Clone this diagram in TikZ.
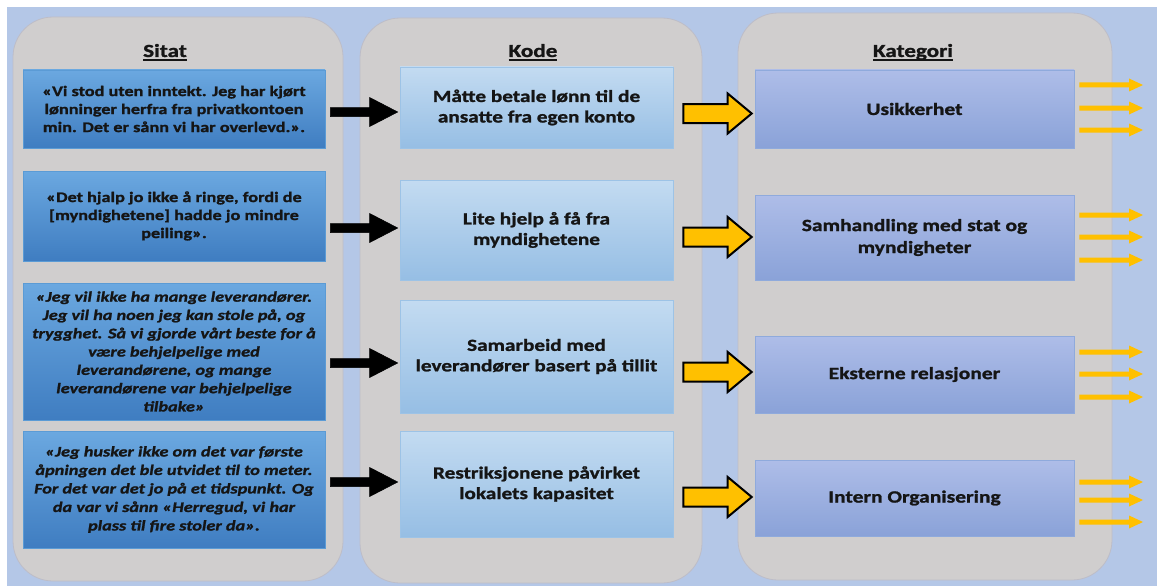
\documentclass[tikz,border=0pt]{standalone}
\usepackage{fontspec}
\setmainfont{Carlito}[FakeStretch=1.25, BoldFeatures={FakeBold=1.3}, BoldItalicFeatures={FakeBold=1.3}]
\usetikzlibrary{calc}
\definecolor{bg}{HTML}{B4C7E7}
\definecolor{panelfill}{HTML}{D0CECE}
\definecolor{panelline}{HTML}{BDBDC8}
\definecolor{stop}{HTML}{6BA8E0}
\definecolor{sbot}{HTML}{3F7DC1}
\definecolor{sline}{HTML}{5B9BD5}
\definecolor{ktop}{HTML}{C3DBF1}
\definecolor{kbot}{HTML}{96BEE4}
\definecolor{kline}{HTML}{9DC3E6}
\definecolor{ctop}{HTML}{AEBDE8}
\definecolor{cbot}{HTML}{8AA2D8}
\definecolor{cline}{HTML}{8FAADC}
\definecolor{gold}{HTML}{FFC000}
\definecolor{txt}{HTML}{151515}
\newcommand\titleul[1]{\setbox0\hbox{#1}\rlap{\rule[-3.6pt]{\wd0}{1.3pt}}\box0}
\newcommand\blockarrow[6]{%
  \draw[#1] let \p1=#2, \p2=#3 in
    (\x1,{\y1+#4}) -- ({\x2-#6},{\y1+#4}) -- ({\x2-#6},{\y1+#5}) -- (\x2,\y1)
    -- ({\x2-#6},{\y1-#5}) -- ({\x2-#6},{\y1-#4}) -- (\x1,{\y1-#4}) -- cycle;}
\begin{document}
\begin{tikzpicture}[x=1pt,y=-1pt,
  panel/.style={draw=panelline, fill=panelfill, rounded corners=40pt, line width=0.8pt, inner sep=0pt},
  title/.style={font=\fontsize{18.5}{20}\selectfont\bfseries, text=txt, anchor=base, inner sep=0pt},
  sbox/.style={draw=sline, top color=stop, bottom color=sbot, line width=0.6pt, minimum width=302pt, inner sep=0pt, align=center, text=txt, font=\fontsize{14.6}{18}\selectfont\bfseries},
  kbox/.style={draw=kline, top color=ktop, bottom color=kbot, line width=0.6pt, minimum width=273pt, inner sep=0pt, align=center, text=txt, font=\fontsize{17}{20.5}\selectfont\bfseries},
  cbox/.style={draw=cline, top color=ctop, bottom color=cbot, line width=0.6pt, minimum width=319pt, inner sep=0pt, align=center, text=txt, font=\fontsize{17.2}{22}\selectfont\bfseries},
  blackarr/.style={fill=black, draw=black, line width=0.5pt},
  goldarr/.style={fill=gold, draw=black, line width=2pt, line join=miter},
  smallarr/.style={fill=gold, draw=none}
]
% background
\fill[white] (0,0) rectangle (1157,586);
\fill[bg] (7,7) rectangle (1157,586);

% panels
\node[panel, minimum width=330pt, minimum height=564pt] (pS) at (178,299) {};
\node[panel, minimum width=342pt, minimum height=565pt] (pK) at (531,300.5) {};
\node[panel, minimum width=374pt, minimum height=567pt] (pC) at (925,296.5) {};

% titles
\node[title] (tS) at (165,57) {\titleul{Sitat}};
\node[title] (tK) at (533,57) {\titleul{Kode}};
\node[title] (tC) at (913,57) {\titleul{Kategori}};

% Sitat boxes
\node[sbox, minimum height=78pt] (s1) at (174,109) {«Vi stod uten inntekt. Jeg har kjørt\\lønninger herfra fra privatkontoen\\min. Det er sånn vi har overlevd.».};
\node[sbox, minimum height=90pt] (s2) at (174,216) {«Det hjalp jo ikke å ringe, fordi de\\{[}myndighetene{]} hadde jo mindre\\peiling».};
\node[sbox, minimum height=137pt, font=\fontsize{14.6}{18.3}\selectfont\bfseries\itshape] (s3) at (174,351.5) {«Jeg vil ikke ha mange leverandører.\\Jeg vil ha noen jeg kan stole på, og\\trygghet. Så vi gjorde vårt beste for å\\være behjelpelige med\\leverandørene, og mange\\leverandørene var behjelpelige\\tilbake»};
\node[sbox, minimum height=117pt, font=\fontsize{14.6}{18.5}\selectfont\bfseries\itshape] (s4) at (174,489.5) {«Jeg husker ikke om det var første\\åpningen det ble utvidet til to meter.\\For det var det jo på et tidspunkt. Og\\da var vi sånn «Herregud, vi har\\plass til fire stoler da».};

% Kode boxes
\node[kbox, minimum height=81pt] (k1) at (536.5,107.5) {Måtte betale lønn til de\\ansatte fra egen konto};
\node[kbox, minimum height=100pt] (k2) at (536.5,230) {Lite hjelp å få fra\\myndighetene};
\node[kbox, minimum height=113pt] (k3) at (536.5,356.5) {Samarbeid med\\leverandører basert på tillit};
\node[kbox, minimum height=106pt] (k4) at (536.5,484) {Restriksjonene påvirket\\lokalets kapasitet};

% Kategori boxes
\node[cbox, minimum height=78pt] (c1) at (914.5,109) {Usikkerhet};
\node[cbox, minimum height=85pt] (c2) at (914.5,237.5) {Samhandling med stat og\\myndigheter};
\node[cbox, minimum height=77pt] (c3) at (914.5,374.5) {Eksterne relasjoner};
\node[cbox, minimum height=76pt] (c4) at (914.5,498) {Intern Organisering};

% black arrows Sitat -> Kode
\blockarrow{blackarr}{($(s1.east |- 0,112)+(5,0)$)}{($(k1.west |- 0,112)+(-2,0)$)}{4.5pt}{14.5pt}{28pt}
\blockarrow{blackarr}{($(s2.east |- 0,228)+(5,0)$)}{($(k2.west |- 0,228)+(-2,0)$)}{4.5pt}{14.5pt}{28pt}
\blockarrow{blackarr}{($(s3.east |- 0,363)+(5,0)$)}{($(k3.west |- 0,363)+(-2,0)$)}{4.5pt}{14.5pt}{28pt}
\blockarrow{blackarr}{($(s4.east |- 0,482)+(5,0)$)}{($(k4.west |- 0,482)+(-2,0)$)}{4.5pt}{14.5pt}{28pt}

% gold arrows Kode -> Kategori
\blockarrow{goldarr}{($(k1.east |- 0,113.5)+(10,0)$)}{($(c1.west |- 0,113.5)+(-3,0)$)}{9.5pt}{20pt}{24pt}
\blockarrow{goldarr}{($(k2.east |- 0,237)+(10,0)$)}{($(c2.west |- 0,237)+(-3,0)$)}{9.5pt}{20pt}{24pt}
\blockarrow{goldarr}{($(k3.east |- 0,372)+(10,0)$)}{($(c3.west |- 0,372)+(-3,0)$)}{9.5pt}{20pt}{24pt}
\blockarrow{goldarr}{($(k4.east |- 0,497)+(10,0)$)}{($(c4.west |- 0,497)+(-3,0)$)}{9.5pt}{20pt}{24pt}

% outgoing small arrows
\foreach \c/\ya/\yb/\yc in {c1/85/108/130, c2/215/237/260, c3/352/374/397, c4/482/500/522}{
  \foreach \yy in {\ya,\yb,\yc}{
    \coordinate (o-\c-\yy) at (1143,\yy);
    \blockarrow{smallarr}{($(\c.east |- 0,\yy)+(5,0)$)}{(o-\c-\yy)}{2.5pt}{6.5pt}{14pt}
  }
}
\end{tikzpicture}
\end{document}
